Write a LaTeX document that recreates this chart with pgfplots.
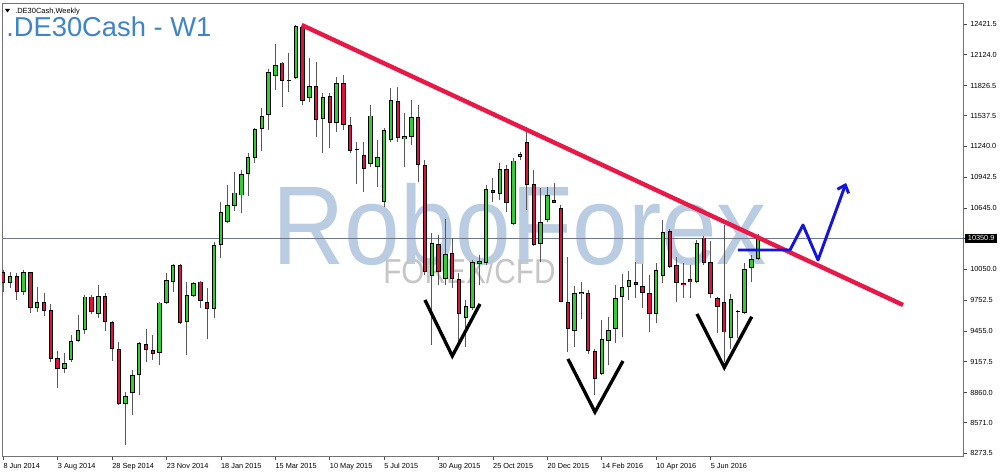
\documentclass[border=0pt]{standalone}
\usepackage{fontspec}
\setmainfont{Liberation Sans}
\usepackage{graphicx}
\usepackage{pgfplots}
\usepackage{pgfplotstable}
\pgfplotsset{compat=1.18}
\usetikzlibrary{arrows.meta}

\definecolor{bull}{RGB}{50,205,50}
\definecolor{bear}{RGB}{220,20,60}
\definecolor{trend}{RGB}{232,24,72}
\definecolor{titleblue}{RGB}{62,132,200}
\definecolor{wmblue}{RGB}{186,204,226}
\definecolor{wmgray}{RGB}{198,198,198}
\definecolor{priceline}{RGB}{110,120,138}
\definecolor{arrowblue}{RGB}{20,20,225}

% weekly candles: index (0 = week of 8 Jun 2014), open, high, low, close, type (1 up, 0 down, 2 doji)
\pgfplotstableread{
i o h l c t
0 10022 10045 9835 9916 0
1 9916 10028 9868 9987 1
2 9987 10013 9755 9829 0
3 9829 10045 9803 10022 1
4 10022 10028 9626 9675 0
5 9675 9883 9642 9738 1
6 9733 9820 9600 9651 0
7 9658 9713 9159 9182 0
8 9192 9262 8902 9085 0
9 9088 9240 9047 9143 1
10 9175 9417 9159 9359 1
11 9362 9610 9352 9465 1
12 9465 9803 9426 9787 1
13 9787 9803 9620 9636 0
14 9617 9900 9584 9796 1
15 9796 9820 9458 9545 0
16 9545 9552 9165 9279 0
17 9279 9352 8740 8747 0
18 8747 8869 8354 8827 1
19 8853 9079 8644 9030 1
20 9030 9352 8837 9336 1
21 9327 9472 9159 9272 0
22 9272 9417 9175 9233 0
23 9240 9738 9127 9729 1
24 9723 10013 9716 9948 1
25 9932 10103 9835 10093 1
26 10093 10103 9523 9530 0
27 9545 9932 9223 9803 1
28 9793 9932 9781 9916 1
29 9932 9941 9675 9748 0
30 9738 9868 9378 9665 0
31 9665 10318 9584 10286 1
32 10286 10705 10158 10608 1
33 10511 10866 10496 10673 1
34 10663 10994 10618 10792 1
35 10765 11011 10593 10972 1
36 10969 11172 10763 11137 1
37 11124 11414 11076 11410 1
38 11404 11607 11194 11533 1
39 11542 11987 11397 11955 1
40 11922 12225 11784 12025 1
41 12048 12057 11623 11871 0
42 11880 12138 11767 11872 2
43 11897 12412 11887 12402 1
44 12395 12422 11639 11678 0
45 11704 12090 11671 11823 1
46 11823 12057 11333 11494 0
47 11501 11752 11172 11713 1
48 11726 11752 11221 11468 0
49 11462 11912 11381 11849 1
50 11849 11929 11397 11446 0
51 11446 11526 11172 11197 0
52 11214 11284 10876 11206 2
53 11156 11284 10801 11018 0
54 11069 11639 11043 11536 1
55 11037 11301 10850 11134 1
56 10705 11414 10656 11397 1
57 11301 11800 11284 11687 1
58 11678 11816 11284 11317 0
59 11306 11559 11043 11335 1
60 11330 11687 11252 11520 1
61 11520 11636 10898 11059 0
62 11059 11108 9996 10028 0
63 9987 10399 9320 10308 1
64 10293 10383 9900 10028 0
65 9955 10535 9900 10196 1
66 10206 10351 9868 9955 0
67 9955 10013 9336 9617 0
68 9578 9755 9304 9697 1
69 9675 10141 9658 10119 1
70 10105 10190 9900 10127 1
71 10109 10866 10093 10824 1
72 10818 10931 10705 10786 0
73 10779 11076 10721 11018 1
74 11018 11059 10608 10689 0
75 10489 11127 10480 11101 1
76 11139 11188 11108 11165 1
77 11284 11429 10624 10866 0
78 10876 11011 10280 10286 0
79 10296 10834 10125 10504 1
80 10531 10844 10511 10765 1
81 10721 10882 10689 10692 0
82 10644 10673 9735 9738 0
83 9736 10173 9255 9472 0
84 9453 9890 9301 9822 1
85 9815 9929 9571 9835 1
86 9825 9851 9233 9262 0
87 9262 9280 8840 8989 0
88 9040 9562 9030 9375 1
89 9362 9593 9127 9465 1
90 9472 9900 9336 9771 1
91 9781 10003 9400 9883 1
92 9878 10038 9755 9948 1
93 9926 10125 9771 9900 0
94 9890 10103 9675 9820 0
95 9820 9996 9449 9617 0
96 9617 10109 9530 10045 1
97 9987 10528 9916 10409 1
98 10424 10438 10061 10077 0
99 10093 10167 9738 9922 0
100 9922 10115 9771 9900 0
101 9955 10093 9771 9924 0
102 9929 10335 9916 10303 1
103 10357 10373 10093 10109 0
104 10119 10328 9771 9813 0
105 9771 9787 9439 9684 0
106 9738 10479 9156 9441 0
107 9385 9808 9281 9762 1
108 9642 9658 9385 9650 2
109 9632 10109 9620 10051 1
110 10061 10190 9929 10148 1
111 10148 10393 10141 10351 1
}\candles

\begin{document}
\begin{tikzpicture}
\useasboundingbox (-1.5pt,-14.25pt) rectangle (748.5pt,342pt);
\fill[white] (-1.5pt,-14.25pt) rectangle (748.5pt,342pt);
% watermark (pixel coordinates)
\begin{scope}[shift={(-1.5pt,342pt)}, x=0.75pt, y=-0.75pt]
  \node[anchor=base west, inner sep=0pt, text=wmblue, font=\fontsize{84}{84}\selectfont] at (272,265) {\scalebox{0.893}[1]{RoboForex}};
  \node[anchor=base west, inner sep=0pt, text=wmgray, font=\fontsize{26}{26}\selectfont] at (383,284) {\scalebox{0.86}[1]{FOREX/CFD}};
\end{scope}
\begin{axis}[
  at={(0pt,0pt)}, anchor=south west,
  scale only axis, width=720.75pt, height=339.75pt,
  xmin=-0.19, xmax=141.13, ymin=8247.5, ymax=12624.4,
  axis line style={draw=black!55, line width=0.6pt},
  xtick={0,8,16,24,32,40,48,56,64,72,80,88,96,104},
  xticklabels={8 Jun 2014, 3 Aug 2014, 28 Sep 2014, 23 Nov 2014, 18 Jan 2015, 15 Mar 2015, 10 May 2015, 5 Jul 2015, 30 Aug 2015, 25 Oct 2015, 20 Dec 2015, 14 Feb 2016, 10 Apr 2016, 5 Jun 2016},
  xtick pos=bottom, ytick pos=right, yticklabel pos=right,
  tick align=outside, major tick length=3pt,
  tick style={draw=black!70, line width=0.5pt},
  ticklabel style={font=\fontsize{5.5}{6}\selectfont, text=black},
  xticklabel style={anchor=north west, inner sep=0pt, yshift=-2.5pt},
  yticklabel style={anchor=west, inner sep=0pt, xshift=2.25pt},
  ytick={8273.5,8571,8860,9157.5,9455,9752.5,10050,10645,10942.5,11240,11537.5,11826.5,12124,12421.5},
  yticklabels={8273.5,8571.0,8860.0,9157.5,9455.0,9752.5,10050.0,10645.0,10942.5,11240.0,11537.5,11826.5,12124.0,12421.5},
  extra y ticks={10350.9},
  extra y tick labels={10350.9},
  extra y tick style={yticklabel style={fill=black, text=white, inner xsep=2pt, inner ysep=1.6pt, xshift=-3.75pt}},
  clip=true,
]
% current price line
\addplot[priceline, line width=0.9pt, forget plot] coordinates {(-1,10350.9) (145,10350.9)};
% wicks
\addplot[draw=none, mark=none, forget plot,
  error bars/.cd, y dir=plus, y explicit, error mark=none,
  error bar style={draw=black!65, line width=0.75pt, solid}]
  table[x=i, y=l, y error expr={\thisrow{h}-\thisrow{l}}] {\candles};
% body outlines
\addplot[draw=none, mark=none, forget plot,
  error bars/.cd, y dir=plus, y explicit, error mark=none,
  error bar style={draw=black, line width=3.3pt, solid}]
  table[x=i, y expr={min(\thisrow{o},\thisrow{c})}, y error expr={abs(\thisrow{c}-\thisrow{o})}] {\candles};
% up bodies (other candles are sent far below the visible range)
\addplot[draw=none, mark=none, forget plot,
  error bars/.cd, y dir=plus, y explicit, error mark=none,
  error bar style={draw=bull, line width=1.8pt, solid}]
  table[x=i, y expr={\thisrow{t}==1 ? min(\thisrow{o},\thisrow{c})+8 : 0}, y error expr={max(abs(\thisrow{c}-\thisrow{o})-16,0)}] {\candles};
% down bodies
\addplot[draw=none, mark=none, forget plot,
  error bars/.cd, y dir=plus, y explicit, error mark=none,
  error bar style={draw=bear, line width=1.8pt, solid}]
  table[x=i, y expr={\thisrow{t}==0 ? min(\thisrow{o},\thisrow{c})+8 : 0}, y error expr={max(abs(\thisrow{c}-\thisrow{o})-16,0)}] {\candles};
% V marks
\addplot[black, line width=2.5pt, line join=miter, forget plot] coordinates {(62.01,9754.8) (66.03,9213.7) (70.10,9716.2)};
\addplot[black, line width=2.5pt, line join=miter, forget plot] coordinates {(83.04,9184.7) (87.01,8672.6) (91.13,9165.4)};
\addplot[black, line width=2.5pt, line join=miter, forget plot] coordinates {(102.01,9619.5) (106.03,9102.6) (110.06,9593.4)};
% trend line
\addplot[trend, line width=3.3pt, forget plot] coordinates {(43.88,12411.8) (132.31,9706.5)};
% blue projected path
\addplot[arrowblue, line width=2.2pt, line join=round, forget plot, -{Straight Barb[length=5pt,width=9pt]}]
  coordinates {(108.04,10237.9) (115.69,10237.9) (117.6,10479.4) (119.81,10141.3) (123.93,10885.3)};
\end{axis}
% titles (pixel coordinates)
\begin{scope}[shift={(-1.5pt,342pt)}, x=0.75pt, y=-0.75pt]
  \fill[black] (5,9) -- (10,9) -- (7.5,12.5) -- cycle;
  \node[anchor=base west, inner sep=0pt, font=\fontsize{5.6}{6}\selectfont] at (15,13.3) {.DE30Cash,Weekly};
  \node[anchor=base west, inner sep=0pt, text=titleblue, font=\fontsize{20.5}{21}\selectfont] at (6,37) {.DE30Cash - W1};
\end{scope}
\end{tikzpicture}
\end{document}
